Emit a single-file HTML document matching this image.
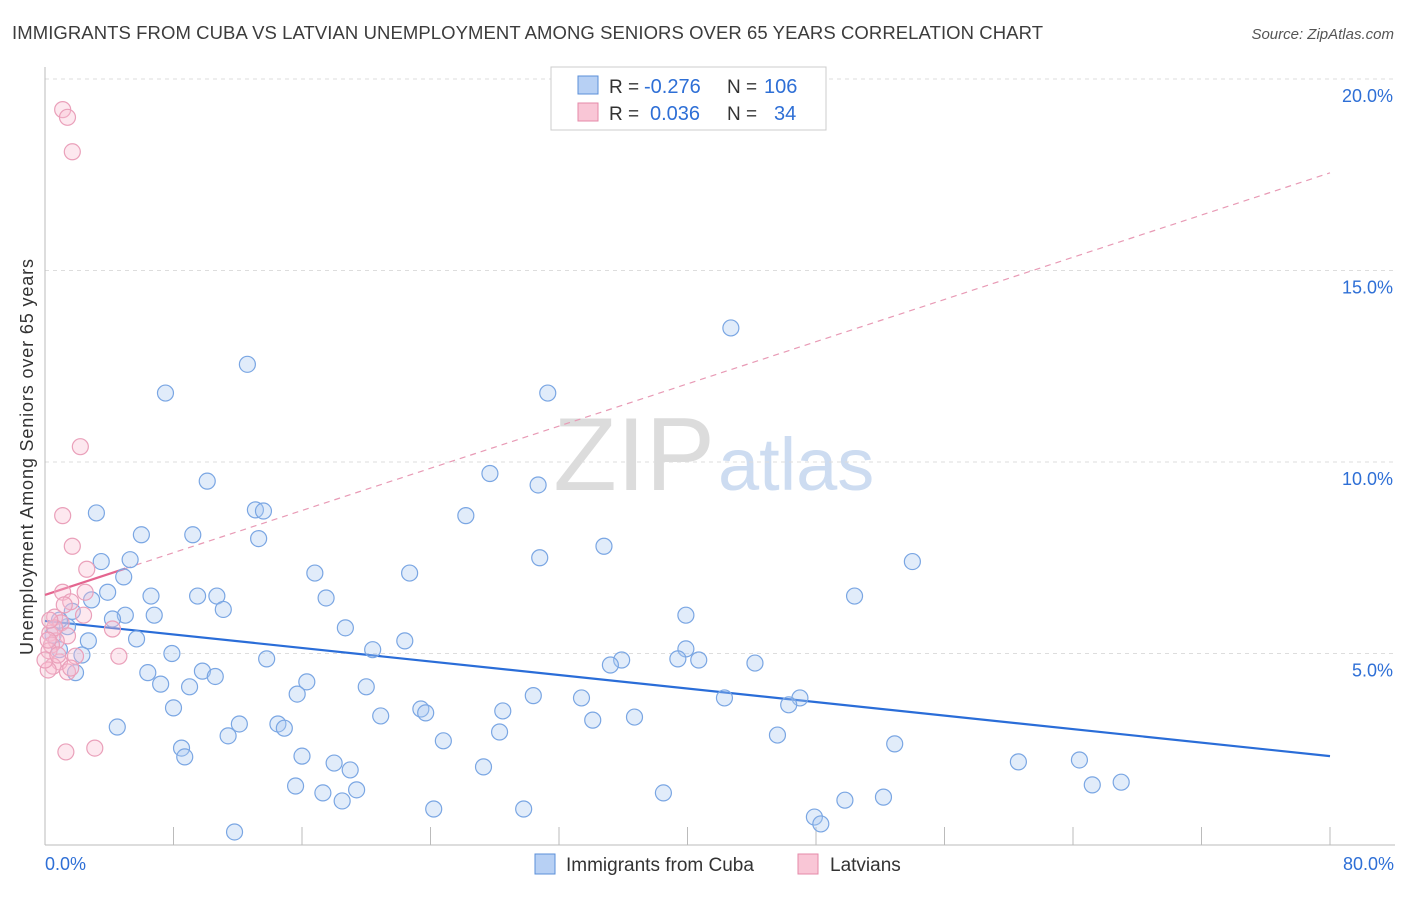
<!DOCTYPE html>
<html><head><meta charset="utf-8">
<style>
body{margin:0;background:#fff;font-family:"Liberation Sans",sans-serif;}
svg text{font-family:"Liberation Sans",sans-serif;}
</style></head>
<body>
<svg id="chart" width="1406" height="892" viewBox="0 0 1406 892">
<text x="12" y="39" font-size="18.5" fill="#3c3c3c" textLength="1031">IMMIGRANTS FROM CUBA VS LATVIAN UNEMPLOYMENT AMONG SENIORS OVER 65 YEARS CORRELATION CHART</text>
<text x="1394" y="39" font-size="15" fill="#555" font-style="italic" text-anchor="end">Source: ZipAtlas.com</text>
<g>
<text x="715" y="490" font-size="104" fill="#dcdcdc" font-family="Liberation Serif, serif" text-anchor="end">ZIP</text>
<text x="718" y="490" font-size="74" fill="#cddcf1">atlas</text>
</g>
<g id="grid"></g>
<g id="axes"></g>
<g id="lines"></g>
<g id="pts"></g>
<text transform="translate(33,457) rotate(-90)" font-size="18" fill="#333" text-anchor="middle" textLength="396">Unemployment Among Seniors over 65 years</text>
<g>
<rect x="551" y="67" width="275" height="63" fill="#fff" stroke="#ccc"/>
<rect x="578" y="76" width="20" height="18" fill="#b7d0f4" stroke="#5b8fd8"/>
<rect x="578" y="103" width="20" height="18" fill="#f9c6d6" stroke="#e58aa8"/>
<text x="609" y="93" font-size="19" fill="#333">R =</text>
<text x="644" y="93" font-size="20" fill="#2e6fd6">-0.276</text>
<text x="727" y="93" font-size="19" fill="#333">N =</text>
<text x="764" y="93" font-size="20" fill="#2e6fd6">106</text>
<text x="609" y="120" font-size="19" fill="#333">R =</text>
<text x="650" y="120" font-size="20" fill="#2e6fd6">0.036</text>
<text x="727" y="120" font-size="19" fill="#333">N =</text>
<text x="774" y="120" font-size="20" fill="#2e6fd6">34</text>
</g>
<g>
<rect x="535" y="854" width="20" height="20" fill="#b7d0f4" stroke="#5b8fd8"/>
<text x="566" y="871" font-size="19" fill="#333">Immigrants from Cuba</text>
<rect x="798" y="854" width="20" height="20" fill="#f9c6d6" stroke="#e58aa8"/>
<text x="830" y="871" font-size="19" fill="#333">Latvians</text>
</g>
</svg>
<script>
const yTicks=[5,10,15,20];
const yTickLabels=["5.0%","10.0%","15.0%","20.0%"];
const xTickLabels=["0.0%","80.0%"];
const cubaX=[42.7,12.6,7.5,31.3,27.7,30.7,10.1,3.2,13.1,13.6,26.2,6.0,9.2,13.3,34.8,30.8,3.5,5.3,54.0,16.8,22.7,4.9,3.9,6.6,9.5,10.7,17.5,50.4,11.1,6.8,5.0,39.9,4.2,18.7,2.9,2.7,5.7,22.4,39.9,20.4,2.3,7.9,13.8,35.9,35.2,39.4,40.7,44.2,6.4,9.8,10.6,7.2,9.0,16.3,15.7,20.0,30.4,33.4,42.3,47.0,8.0,23.4,23.7,28.5,20.9,34.1,36.7,4.5,12.1,14.5,14.9,11.4,28.3,45.6,46.3,24.8,8.5,8.7,16.0,52.9,18.0,19.0,27.3,60.6,64.4,15.6,17.3,19.4,18.5,65.2,67.0,38.5,24.2,29.8,49.8,52.2,47.9,48.3,11.8,1.9,0.9,0.5,1.4,1.7,0.9];
const cubaY=[13.5,12.55,11.8,11.8,9.7,9.4,9.5,8.67,8.75,8.72,8.6,8.1,8.1,8.0,7.8,7.5,7.4,7.45,7.4,7.1,7.1,7.0,6.6,6.5,6.5,6.5,6.45,6.5,6.15,6.0,6.0,6.0,5.9,5.67,6.4,5.33,5.38,5.33,5.12,5.1,4.96,5.0,4.86,4.83,4.7,4.86,4.83,4.75,4.5,4.54,4.4,4.2,4.13,4.26,3.94,4.13,3.9,3.84,3.84,3.84,3.58,3.55,3.45,3.5,3.37,3.26,3.34,3.08,3.16,3.16,3.05,2.85,2.95,2.87,3.66,2.72,2.53,2.3,2.32,2.64,2.14,1.96,2.04,2.17,2.22,1.54,1.36,1.44,1.15,1.57,1.64,1.36,0.94,0.94,1.17,1.25,0.73,0.55,0.34,4.5,5.1,5.48,5.7,6.1,5.87];
const latX=[1.1,1.4,1.7,2.2,1.1,1.7,2.6,1.1,1.6,2.4,0.6,1.0,4.2,0.3,1.4,0.7,0.4,0.25,1.9,4.6,0.9,0.5,0.2,1.4,0.0,1.3,3.1,0.6,1.2,0.2,1.6,0.8,0.3,2.5];
const latY=[19.2,19.0,18.1,10.4,8.6,7.8,7.2,6.6,6.35,6.0,5.95,5.8,5.64,5.53,5.46,5.33,5.22,5.07,4.93,4.93,4.78,4.67,4.57,4.52,4.83,2.43,2.53,5.67,6.27,5.35,4.62,4.96,5.87,6.6];
const cubaFit=[5.85,2.32];
const latFit=[6.53,17.55];
const NS="http://www.w3.org/2000/svg";
const sx=v=>45+v*(1285/80);
const sy=v=>845-v*38.3;
function mk(t,a,p){const e=document.createElementNS(NS,t);for(const k in a)e.setAttribute(k,a[k]);p.appendChild(e);return e;}
const grid=document.getElementById('grid'),axes=document.getElementById('axes'),lines=document.getElementById('lines'),pts=document.getElementById('pts');
yTicks.forEach((t,i)=>{
 const g=mk('line',{x1:45,x2:1395,y1:sy(t),y2:sy(t),stroke:'#ddd','stroke-dasharray':'4,4'},grid);
 
 
 const l=mk('text',{x:1393,y:sy(t)+23,'font-size':18,fill:'#2e6fd6','text-anchor':'end'},axes);
 l.textContent=yTickLabels[i];
 
 
});
const xa=mk('line',{x1:45,x2:1395,y1:845,y2:845,stroke:'#bbb'},axes);


const ya=mk('line',{x1:45,x2:45,y1:67,y2:845,stroke:'#bbb'},axes);


for(let i=1;i<=10;i++){const t=mk('line',{x1:sx(i*8),x2:sx(i*8),y1:827,y2:845,stroke:'#bbb'},axes);
 
 }
[[0,'start',45],[80,'end',1394]].forEach((d,i)=>{const l=mk('text',{x:d[2],y:870,'font-size':18,fill:'#2e6fd6','text-anchor':d[1]},axes);l.textContent=xTickLabels[i];
 
 });
function addPts(X,Y,fill,stroke,name){X.forEach((x,i)=>{const c=mk('circle',{cx:sx(x),cy:sy(Y[i]),r:8,fill:fill,stroke:stroke,'stroke-width':1.2},pts);
 
 });}
addPts(cubaX,cubaY,'rgba(170,200,240,0.35)','#7aa6e3','cuba-point');
addPts(latX,latY,'rgba(248,190,210,0.35)','#eaa0ba','latvian-point');
const bl=mk('line',{x1:sx(0),y1:sy(cubaFit[0]),x2:sx(80),y2:sy(cubaFit[1]),stroke:'#2a6dd8','stroke-width':2.2},lines);


const lf=x=>latFit[0]+(latFit[1]-latFit[0])*x/80;
const pd=mk('line',{x1:sx(5),y1:sy(lf(5)),x2:sx(80),y2:sy(lf(80)),stroke:'#e89ab5','stroke-width':1.2,'stroke-dasharray':'6,5'},lines);


const ps=mk('line',{x1:sx(0),y1:sy(lf(0)),x2:sx(5),y2:sy(lf(5)),stroke:'#e4658f','stroke-width':2.2},lines);


</script>
</body></html>
